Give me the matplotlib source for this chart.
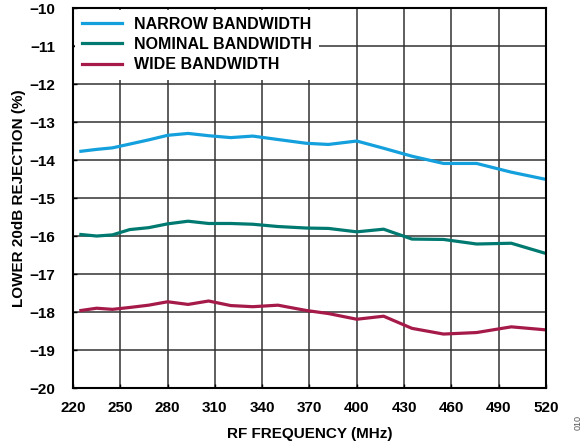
import matplotlib
matplotlib.use("Agg")
import matplotlib.pyplot as plt

plt.rcParams['font.family'] = ['Liberation Sans', 'DejaVu Sans']
plt.rcParams['font.weight'] = 'bold'

freq = [225, 235, 245, 256, 268, 280, 293, 306, 320, 334, 350, 368, 382, 400, 417, 435, 455, 476, 498, 520]
narrow = [-13.77, -13.72, -13.68, -13.58, -13.47, -13.35, -13.30, -13.36, -13.41, -13.37,
          -13.46, -13.56, -13.59, -13.50, -13.69, -13.90, -14.09, -14.09, -14.32, -14.51]
nominal = [-15.96, -16.00, -15.97, -15.83, -15.78, -15.68, -15.61, -15.67, -15.67, -15.69,
           -15.75, -15.79, -15.80, -15.89, -15.82, -16.08, -16.09, -16.21, -16.19, -16.46]
wide = [-17.96, -17.90, -17.93, -17.88, -17.82, -17.73, -17.80, -17.71, -17.83, -17.86,
        -17.82, -17.96, -18.04, -18.19, -18.11, -18.43, -18.58, -18.54, -18.39, -18.47]
labels = ["NARROW BANDWIDTH", "NOMINAL BANDWIDTH", "WIDE BANDWIDTH"]
colors = ["#13a0dc", "#007a70", "#a61a4a"]
xticks = list(range(220, 521, 30))
yticks = list(range(-20, -9, 1))

fig = plt.figure(figsize=(5.85, 4.46), dpi=100)
ax = fig.add_axes([0.1248, 0.130, 0.8085, 0.852])

for y, lab, c in zip([narrow, nominal, wide], labels, colors):
    ax.plot(freq, y, color=c, lw=2.3, label=lab, solid_joinstyle='round')

ax.set_xlim(220, 520)
ax.set_ylim(-20, -10)
ax.set_xticks(xticks)
ax.set_yticks(yticks)
ax.grid(True, color='#333333', lw=1.1)
ax.set_axisbelow(True)
ax.tick_params(direction='in', length=3, width=1, labelsize=11)
ax.tick_params(axis='y', pad=13)
ax.tick_params(axis='x', pad=9)
for s in ax.spines.values():
    s.set_linewidth(1.5)
    s.set_color('black')
for t in ax.get_xticklabels() + ax.get_yticklabels():
    t.set_fontweight('bold')

ax.set_xlabel("RF FREQUENCY (MHz)", fontsize=11, fontweight='bold', labelpad=9)
ax.set_ylabel("LOWER 20dB REJECTION (%)", fontsize=11, fontweight='bold', labelpad=2.5)

leg = ax.legend(loc='upper left', frameon=True, fancybox=False, framealpha=1,
                facecolor='white', edgecolor='none', prop={'size': 11.5, 'weight': 'bold'},
                handlelength=2.5, handletextpad=0.75, labelspacing=0.33,
                borderaxespad=0.1, borderpad=0.45)
leg.set_zorder(2.5)

fig.text(0.988, 0.035, "010", rotation=90, fontsize=6.5, color='#555555',
         fontweight='normal', ha='center', va='bottom')

fig.savefig("out.png", dpi=100)
